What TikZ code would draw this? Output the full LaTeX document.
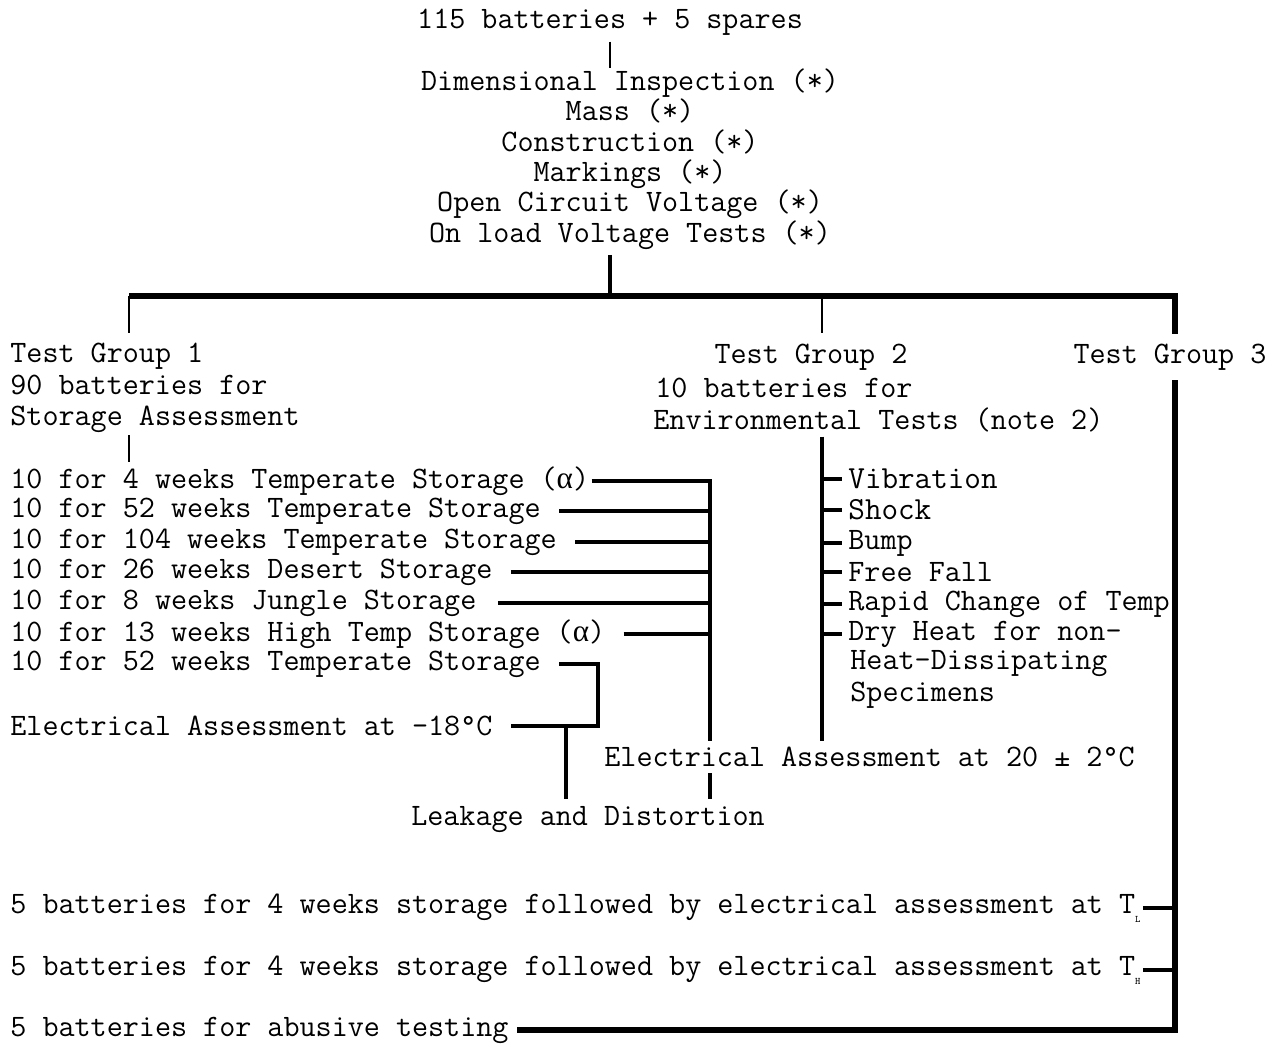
\documentclass[tikz,border=0pt]{standalone}
\usepackage{fontspec}
\newfontfamily\grk{Liberation Serif}
\usetikzlibrary{positioning}

\begin{document}
\begin{tikzpicture}[x=0.5pt, y=-0.5pt,
  lbl/.style={inner sep=0pt, font=\ttfamily\fontsize{15.6}{15.2}\selectfont},
  lblw/.style={lbl, anchor=west},
  big/.style={lblw, font=\ttfamily\fontsize{16.1}{16}\selectfont},
  thn/.style={line width=1pt},
  thk/.style={line width=2pt},
  bus/.style={line width=2.6pt},
  gap/.style={shorten <=9pt}
]
\useasboundingbox (0,0) rectangle (1272,1043);

% common checks on all batteries
\node[lbl] (top) at (610,22) {115 batteries + 5 spares};
\node[lbl, align=center] (checks) at (630,159) {Dimensional Inspection (*)\\Mass (*)\\Construction (*)\\Markings (*)\\Open Circuit Voltage (*)\\On load Voltage Tests (*)};
\draw[thn, shorten <=3pt] (top.south) -- (top |- checks.north);

\coordinate (bus1) at (129,296);
\coordinate (bus2) at (822,296);
\coordinate (bus3) at (1175,296);
\draw[thk, shorten <=2.5pt] (checks.south -| top) -- (top |- bus1);

% test group 1
\node[lblw, align=left, font=\ttfamily\fontsize{15.6}{15.75}\selectfont] (g1) at (10,388) {Test Group 1\\90 batteries for\\Storage Assessment};
\draw[thn, shorten >=5pt] (bus1) -- (bus1 |- g1.north);

\node[lblw] (s1) at (10,481) {10 for 4 weeks Temperate Storage ({\grk α})};
\node[lblw] (s2) at (10,511) {10 for 52 weeks Temperate Storage};
\node[lblw] (s3) at (10,542) {10 for 104 weeks Temperate Storage};
\node[lblw] (s4) at (10,572) {10 for 26 weeks Desert Storage};
\node[lblw] (s5) at (10,603) {10 for 8 weeks Jungle Storage};
\node[lblw] (s6) at (10,634) {10 for 13 weeks High Temp Storage ({\grk α})};
\node[lblw] (s7) at (10,664) {10 for 52 weeks Temperate Storage};
\node[lblw] (e1) at (10,726) {Electrical Assessment at -18°C};
\node[lbl] (leak) at (588,820) {Leakage and Distortion};
\draw[thn, shorten <=1pt, shorten >=2pt] (g1.south -| bus1) -- (bus1 |- s1.north);

% test group 2
\node[lbl] (g2a) at (811,357) {Test Group 2};
\node[lblw] (g2b) at (655,388) {10 batteries for};
\node[lblw] (g2c) at (653,420) {Environmental Tests (note 2)};
\node[lblw, inner ysep=3pt] (e20) at (604,757) {Electrical Assessment at 20 ± 2°C};
\draw[thn, shorten >=5pt] (bus2) -- (bus2 |- g2a.north);

\node[big] (v1) at (848,479) {Vibration};
\node[big] (v2) at (848,510) {Shock};
\node[lblw] (v3) at (848,543) {Bump};
\node[lblw] (v4) at (848,572) {Free Fall};
\node[lblw] (v5) at (848,604) {Rapid Change of Temp};
\node[lblw] (v6) at (848,634) {Dry Heat for non-};
\node[lblw] (v6b) at (850,664) {Heat-Dissipating};
\node[lblw] (v6c) at (850,695) {Specimens};

\draw[thk, shorten <=2pt] (g2c.south -| bus2) -- (bus2 |- e20.north);
\foreach \v in {v1,v2,v3,v4,v5,v6}
  \draw[thk] (bus2 |- \v.west) -- ([xshift=-3pt]\v.west);

% storage results to leakage
\coordinate (busA) at (710,481);
\coordinate (jc) at (598,726);
\coordinate (jl) at (566,726);
\draw[thk, shorten <=1pt] (s1.east) -- (busA) -- (busA |- e20.north);
\foreach \s in {s2,s3,s4,s6}
  \draw[thk, gap] (\s.east) -- (\s.east -| busA);
\draw[thk, shorten <=10.5pt] (s5.east) -- (s5.east -| busA);
\draw[thk, gap, shorten >=9pt] (s7.east) -| (jc) -- (e1.east);
\draw[thk, shorten >=4pt] (jl) -- (jl |- leak.north);
\draw[thk, shorten >=4pt] (e20.south -| busA) -- (busA |- leak.north);

% test group 3
\node[lblw] (t1) at (10,908) {5 batteries for 4 weeks storage followed by electrical assessment at T\raisebox{-0.7ex}{\fontsize{5}{5}\selectfont L}};
\node[lblw] (t2) at (10,970) {5 batteries for 4 weeks storage followed by electrical assessment at T\raisebox{-0.7ex}{\fontsize{5}{5}\selectfont H}};
\node[lblw] (t3) at (10,1030) {5 batteries for abusive testing};
\draw[bus] (bus1) -- (bus3) -- (bus3 |- t3.east) -- ([xshift=4pt]t3.east);
\draw[thk, shorten <=1pt] (t1.east) -- (t1.east -| bus3);
\draw[thk, shorten <=1pt] (t2.east) -- (t2.east -| bus3);
\node[lbl, fill=white, inner ysep=5pt, inner xsep=1pt] (g3) at (1170,357) {Test Group 3};
\end{tikzpicture}
\end{document}
